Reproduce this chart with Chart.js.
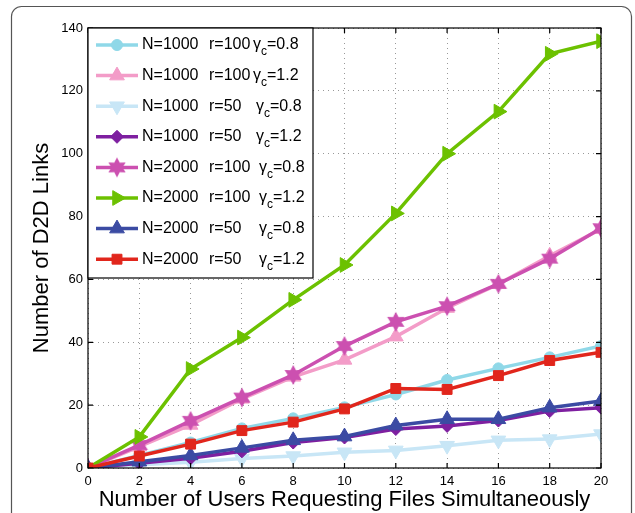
<!DOCTYPE html>
<html>
<head>
<meta charset="utf-8">
<script src="https://cdn.jsdelivr.net/npm/chart.js@4/dist/chart.umd.min.js"></script>
<style>
  html, body { margin: 0; padding: 0; background: #fff; }
  #wrap { width: 635px; height: 513px; }
</style>
</head>
<body>
<div id="wrap"><canvas id="d2dChart" width="635" height="513"></canvas></div>
<script>
// data
const users = [0, 2, 4, 6, 8, 10, 12, 14, 16, 18, 20];
const yTicks = [0, 20, 40, 60, 80, 100, 120, 140];

const seriesN = ['1000', '1000', '1000', '1000', '2000', '2000', '2000', '2000'];
const seriesR = ['100', '100', '50', '50', '100', '100', '50', '50'];
const seriesGamma = ['0.8', '1.2', '0.8', '1.2', '0.8', '1.2', '0.8', '1.2'];

const n1000r100g08 = [0, 4.0, 8.1, 12.6, 15.8, 19.3, 23.4, 28.0, 31.7, 35.2, 38.8];
const n1000r100g12 = [0, 6.8, 13.7, 22.0, 29.0, 34.4, 41.8, 50.9, 58.5, 67.5, 76.0];
const n1000r50g08 = [0, 1.0, 1.8, 3.0, 3.8, 5.0, 5.6, 7.1, 8.8, 9.2, 10.8];
const n1000r50g12 = [0, 1.5, 3.1, 5.3, 8.1, 9.7, 12.4, 13.4, 15.1, 18.1, 19.2];
const n2000r100g08 = [0, 7.3, 15.0, 22.4, 29.6, 38.8, 46.5, 51.5, 58.6, 66.6, 76.3];
const n2000r100g12 = [0, 9.9, 31.5, 41.5, 53.5, 64.6, 81.0, 100.0, 113.4, 131.8, 135.8];
const n2000r50g08 = [0, 2.0, 4.0, 6.4, 8.8, 10.0, 13.5, 15.5, 15.5, 19.2, 21.3];
const n2000r50g12 = [0, 3.8, 7.6, 11.9, 14.6, 18.8, 25.3, 25.0, 29.4, 34.2, 36.8];

const allSeries = [n1000r100g08, n1000r100g12, n1000r50g08, n1000r50g12,
                   n2000r100g08, n2000r100g12, n2000r50g08, n2000r50g12];

// styles
const colors = ['#8fd8e8', '#f39cc8', '#c8e6f6', '#7e1fa0', '#cc50b0', '#6cc100', '#3b4ba3', '#e1261c'];
const gammaX = [253, 253, 256, 256, 259, 259, 259, 259];

function makeStar(color, r) {
    const c = document.createElement('canvas');
    c.width = r * 2 + 2;
    c.height = r * 2 + 2;
    const g = c.getContext('2d');
    g.fillStyle = color;
    g.beginPath();
    for (let i = 0; i < 12; i++) {
        const a = -Math.PI / 2 + i * Math.PI / 6;
        const rr = i % 2 === 0 ? r : r * 0.55;
        const px = r + 1 + rr * Math.cos(a), py = r + 1 + rr * Math.sin(a);
        if (i === 0) g.moveTo(px, py); else g.lineTo(px, py);
    }
    g.closePath();
    g.fill();
    return c;
}

const markers = [
    { pointStyle: 'circle', rotation: 0, radius: 5.5 },
    { pointStyle: 'triangle', rotation: 0, radius: 8.5 },
    { pointStyle: 'triangle', rotation: 180, radius: 8.5 },
    { pointStyle: 'rectRot', rotation: 0, radius: 6.5 },
    { pointStyle: makeStar(colors[4], 10), rotation: 0, radius: 10 },
    { pointStyle: 'triangle', rotation: 90, radius: 8.5 },
    { pointStyle: 'triangle', rotation: 0, radius: 8.5 },
    { pointStyle: 'rect', rotation: 0, radius: 7 }
];

const datasets = allSeries.map(function(vals, i) {
    return {
        label: 'N=' + seriesN[i] + ' r=' + seriesR[i] + ' γc=' + seriesGamma[i],
        data: users.map(function(u, k) { return { x: u, y: vals[k] }; }),
        borderColor: colors[i],
        backgroundColor: colors[i],
        borderWidth: 3.5,
        pointStyle: markers[i].pointStyle,
        pointRotation: markers[i].rotation,
        pointRadius: markers[i].radius,
        pointBorderWidth: 1,
        pointBackgroundColor: colors[i],
        pointBorderColor: colors[i],
        tension: 0,
        order: 8 - i
    };
});

// outer rounded frame around the figure
const outerFrame = {
    id: 'outerFrame',
    beforeDraw(chart) {
        const ctx = chart.ctx;
        ctx.save();
        ctx.strokeStyle = '#555';
        ctx.lineWidth = 1.2;
        ctx.beginPath();
        ctx.roundRect(11.5, 6.5, 620, 540, 10);
        ctx.stroke();
        ctx.restore();
    }
};

// black axes box with inward ticks on all sides
const axesBox = {
    id: 'axesBox',
    afterDatasetsDraw(chart) {
        const ctx = chart.ctx;
        const a = chart.chartArea;
        const xs = chart.scales.x, ys = chart.scales.y;
        ctx.save();
        ctx.strokeStyle = '#000';
        ctx.lineWidth = 1.2;
        ctx.strokeRect(a.left, a.top, a.right - a.left, a.bottom - a.top);
        ctx.beginPath();
        users.forEach(function(u) {
            const px = xs.getPixelForValue(u);
            ctx.moveTo(px, a.bottom); ctx.lineTo(px, a.bottom - 5);
            ctx.moveTo(px, a.top); ctx.lineTo(px, a.top + 5);
        });
        yTicks.forEach(function(v) {
            const py = ys.getPixelForValue(v);
            ctx.moveTo(a.left, py); ctx.lineTo(a.left + 5, py);
            ctx.moveTo(a.right, py); ctx.lineTo(a.right - 5, py);
        });
        ctx.stroke();
        ctx.restore();
    }
};

// legend drawn by hand so gamma can carry its subscript c
const matlabLegend = {
    id: 'matlabLegend',
    afterDraw(chart) {
        const ctx = chart.ctx;
        const a = chart.chartArea;
        const left = a.left, top = a.top;
        ctx.save();
        ctx.fillStyle = '#fff';
        ctx.fillRect(left, top, 225, 250);
        ctx.strokeStyle = '#000';
        ctx.lineWidth = 1.2;
        ctx.strokeRect(left, top, 225, 250);
        for (let i = 0; i < allSeries.length; i++) {
            const y = top + 17 + i * 30.6;
            ctx.strokeStyle = colors[i];
            ctx.lineWidth = 3.5;
            ctx.beginPath();
            ctx.moveTo(left + 8, y);
            ctx.lineTo(left + 50, y);
            ctx.stroke();
            ctx.fillStyle = colors[i];
            ctx.lineWidth = 1;
            Chart.helpers.drawPoint(ctx, {
                pointStyle: markers[i].pointStyle,
                rotation: markers[i].rotation,
                radius: markers[i].radius,
                borderWidth: 1
            }, left + 29, y);

            ctx.fillStyle = '#000';
            ctx.textBaseline = 'middle';
            ctx.textAlign = 'left';
            ctx.font = '16px "Liberation Sans", Arial, sans-serif';
            ctx.fillText('N=' + seriesN[i], left + 54, y);
            ctx.fillText('r=' + seriesR[i], left + 121, y);
            const gx = gammaX[i];
            ctx.fillText('γ', gx, y);
            const gw = ctx.measureText('γ').width;
            ctx.font = '12px "Liberation Sans", Arial, sans-serif';
            ctx.fillText('c', gx + gw, y + 7);
            const cw = ctx.measureText('c').width;
            ctx.font = '16px "Liberation Sans", Arial, sans-serif';
            ctx.fillText('=' + seriesGamma[i], gx + gw + cw, y);
        }
        ctx.restore();
    }
};

const tickFont = { family: '"Liberation Sans", Arial, sans-serif', size: 13 };
const titleFont = { family: '"Liberation Sans", Arial, sans-serif', size: 22 };

new Chart(document.getElementById('d2dChart'), {
    type: 'line',
    data: { datasets: datasets },
    options: {
        responsive: false,
        animation: false,
        devicePixelRatio: 1,
        layout: { padding: { left: 20, top: 28, right: 34, bottom: 0 } },
        plugins: {
            legend: { display: false },
            tooltip: { enabled: false }
        },
        scales: {
            x: {
                type: 'linear',
                min: 0,
                max: 20,
                afterFit: function(s) { s.height = 45; },
                afterBuildTicks: function(s) { s.ticks = users.map(function(v) { return { value: v }; }); },
                grid: { color: '#999', lineWidth: 1, drawTicks: false },
                border: { display: false, dash: [1, 4] },
                ticks: { color: '#000', font: tickFont, padding: 6, maxRotation: 0 },
                title: {
                    display: true,
                    text: 'Number of Users Requesting Files Simultaneously',
                    color: '#000',
                    font: titleFont,
                    padding: { top: 0, bottom: 0 }
                }
            },
            y: {
                min: 0,
                max: 140,
                afterFit: function(s) { s.width = 68; },
                afterBuildTicks: function(s) { s.ticks = yTicks.map(function(v) { return { value: v }; }); },
                grid: { color: '#999', lineWidth: 1, drawTicks: false },
                border: { display: false, dash: [1, 4] },
                ticks: { color: '#000', font: tickFont, padding: 5 },
                title: {
                    display: true,
                    text: 'Number of D2D Links',
                    color: '#000',
                    font: titleFont,
                    padding: { top: 9, bottom: 0 }
                }
            }
        }
    },
    plugins: [outerFrame, axesBox, matlabLegend]
});
</script>
</body>
</html>
